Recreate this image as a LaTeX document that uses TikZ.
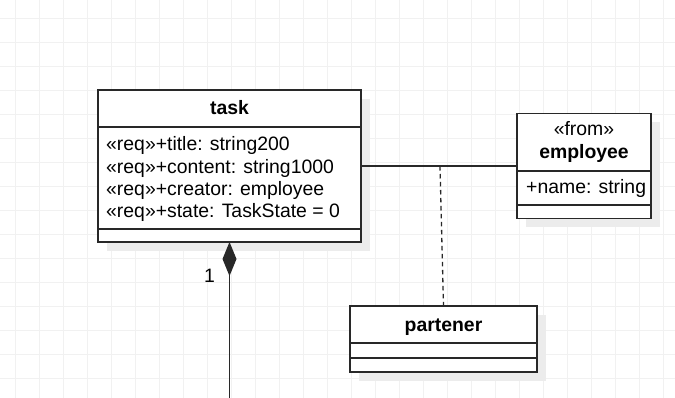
\documentclass[tikz,border=0pt]{standalone}
\usepackage{fontspec}
\setmainfont{Liberation Sans}
\usetikzlibrary{positioning,arrows.meta,calc,shadows}
\definecolor{UmlStroke}{RGB}{40,40,40}
\definecolor{GridGray}{RGB}{241,241,241}
\definecolor{ShadowGray}{RGB}{236,236,236}
\tikzset{
  gridline/.style={draw=GridGray,line width=0.8pt},
  classbox/.style={draw=UmlStroke,fill=white,line width=1.6pt,inner sep=0pt,outer sep=0pt,
    drop shadow={shadow xshift=9pt,shadow yshift=-9pt,fill=ShadowGray,opacity=1}},
  sepline/.style={draw=UmlStroke,line width=1.6pt},
  classname/.style={font=\fontsize{19.4}{22.4}\selectfont\bfseries,inner sep=0pt,anchor=base},
  stereo/.style={font=\fontsize{19.4}{22.4}\selectfont,inner sep=0pt,anchor=base},
  attr/.style={font=\fontsize{19.4}{22.4}\selectfont,inner sep=0pt,anchor=base west},
  assoc/.style={draw=UmlStroke,line width=1.3pt},
  assocclass/.style={assoc,dash pattern=on 4.5pt off 3.5pt},
  compose/.style={assoc,{Diamond[length=34pt,width=14pt]}-}
}

\begin{document}
\begin{tikzpicture}[x=1pt,y=-1pt]
  \useasboundingbox (0,0) rectangle (675,398);
  % background grid
  \foreach \gx in {15,39,...,663} \draw[gridline] (\gx,0) -- (\gx,398);
  \foreach \gy in {18.5,42.5,...,378.5} \draw[gridline] (0,\gy) -- (675,\gy);

  % task class
  \node[classbox,minimum width=263pt,minimum height=152pt] (task) at (229.5,166) {};
  \node[classname] (tasktitle) at ($(task.north)+(0,25)$) {task};
  \draw[sepline] ($(task.north west)+(0,37)$) -- ($(task.north east)+(0,37)$);
  \draw[sepline] ($(task.south west)+(0,-13)$) -- ($(task.south east)+(0,-13)$);
  \node[attr] (tattr1) at (106,150.7) {«req»+title: string200};
  \node[attr] (tattr2) at (106,173.1) {«req»+content: string1000};
  \node[attr] (tattr3) at (106,195.5) {«req»+creator: employee};
  \node[attr] (tattr4) at (106,217.9) {«req»+state: TaskState = 0};

  % employee class
  \node[classbox,minimum width=134pt,minimum height=105pt] (employee) at (584,166) {};
  \node[stereo] (empstereo) at ($(employee.north)+(0,22.1)$) {«from»};
  \node[classname] (emptitle) at ($(employee.north)+(0,44.8)$) {employee};
  \draw[sepline] ($(employee.north west)+(0,57.5)$) -- ($(employee.north east)+(0,57.5)$);
  \draw[sepline] ($(employee.north west)+(0,91.5)$) -- ($(employee.north east)+(0,91.5)$);
  \node[attr] (eattr1) at (526,193.3) {+name: string};

  % association class
  \node[classbox,minimum width=187pt,minimum height=66pt] (partener) at (443.5,339) {};
  \node[classname] (partitle) at ($(partener.north)+(0,25)$) {partener};
  \draw[sepline] ($(partener.north west)+(0,37)$) -- ($(partener.north east)+(0,37)$);
  \draw[sepline] ($(partener.north west)+(0,52)$) -- ($(partener.north east)+(0,52)$);

  % links
  \coordinate (assocmid) at (440,166);
  \draw[assoc] (task.east) -- (employee.west);
  \draw[assocclass] (assocmid) -- (partener.north);
  \coordinate (compend) at (229.5,400);
  \draw[compose] (task.south) -- (compend);
  \node[attr,anchor=base] (mult) at (209.5,282.3) {1};
\end{tikzpicture}
\end{document}
